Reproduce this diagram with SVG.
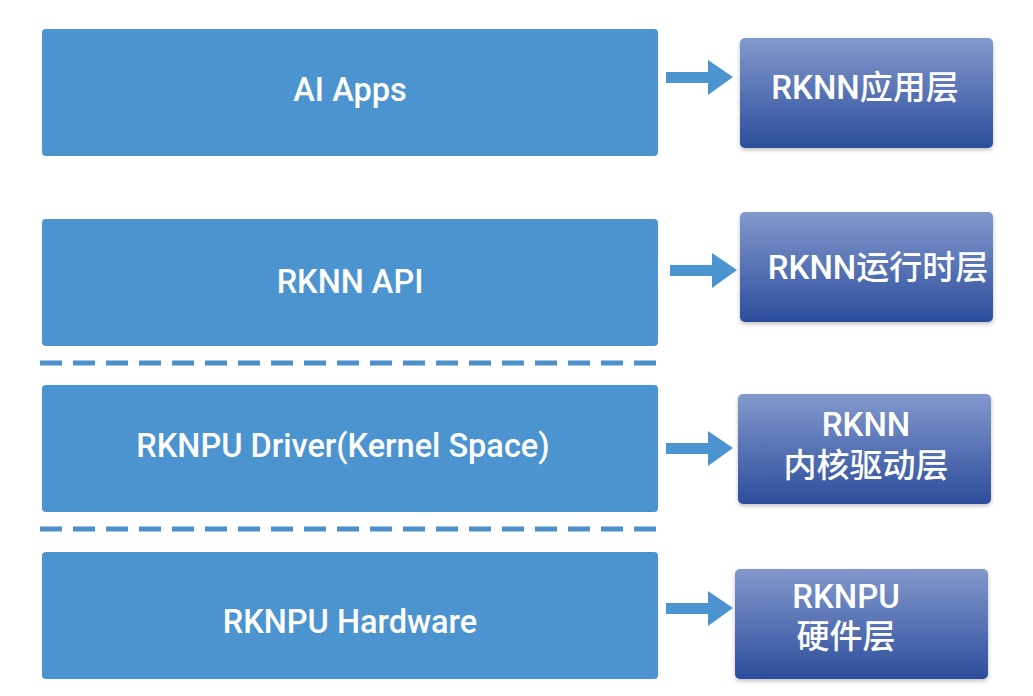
<svg xmlns="http://www.w3.org/2000/svg" width="1033" height="696" viewBox="0 0 1033 696">
<style>
.layer{fill:#4b94cf;}
.lt{fill:#fff;font-family:Roboto,"Noto Sans CJK SC",sans-serif;font-weight:500;font-size:32.5px;text-anchor:middle;}
.rt{fill:#fff;font-family:Roboto,"Noto Sans CJK SC",sans-serif;font-weight:500;font-size:33px;text-anchor:middle;}
.rbox{fill:url(#g);filter:url(#sh);}
.dash{stroke:#4b8fcb;stroke-width:5;stroke-dasharray:22 11;fill:none;}
.arr{fill:#4b94cf;}
</style>
<defs>
<linearGradient id="g" x1="0" y1="0" x2="0" y2="1">
<stop offset="0" stop-color="#8399cd"/>
<stop offset="1" stop-color="#2c4d9c"/>
</linearGradient>
<filter id="sh" x="-10%" y="-10%" width="120%" height="125%">
<feDropShadow dx="0" dy="2" stdDeviation="2" flood-color="#000" flood-opacity="0.25"/>
</filter>
</defs>
<rect width="1033" height="696" fill="#fff"/>
<g id="ai-apps"><rect class="layer" x="42" y="29" width="616" height="127" rx="4"/><text class="lt" x="350" y="101">AI Apps</text></g>
<g id="rknn-api"><rect class="layer" x="42" y="219" width="616" height="127" rx="4"/><text class="lt" x="350" y="293">RKNN API</text></g>
<g id="driver"><rect class="layer" x="42" y="385" width="616" height="127" rx="4"/><text class="lt" x="343" y="457">RKNPU Driver(Kernel Space)</text></g>
<g id="hardware"><rect class="layer" x="42" y="552" width="616" height="127" rx="4"/><text class="lt" x="350" y="633">RKNPU Hardware</text></g>
<g id="app-layer"><rect class="rbox" x="740" y="38" width="253" height="110" rx="5"/><text class="rt" x="865" y="99">RKNN应用层</text></g>
<g id="runtime-layer"><rect class="rbox" x="740" y="212" width="253" height="110" rx="5"/><text class="rt" x="878" y="279">RKNN运行时层</text></g>
<g id="kernel-layer"><rect class="rbox" x="738" y="394" width="253" height="110" rx="5"/><text class="rt" x="866" y="436">RKNN</text><text class="rt" x="866" y="477">内核驱动层</text></g>
<g id="hw-layer"><rect class="rbox" x="735" y="569" width="253" height="110" rx="5"/><text class="rt" x="846" y="608">RKNPU</text><text class="rt" x="846" y="648">硬件层</text></g>
<g id="connectors">
<line class="dash" x1="40" y1="363" x2="662" y2="363"/>
<line class="dash" x1="40" y1="529" x2="662" y2="529"/>
<path class="arr" d="M666 72 H708 V60 L733 77 L708 95 V83 H666 Z"/>
<path class="arr" d="M670 265 H712 V253 L737 270 L712 288 V276 H670 Z"/>
<path class="arr" d="M666 443 H708 V431 L733 448 L708 466 V454 H666 Z"/>
<path class="arr" d="M666 603 H708 V591 L733 608 L708 626 V614 H666 Z"/>
</g>
</svg>
